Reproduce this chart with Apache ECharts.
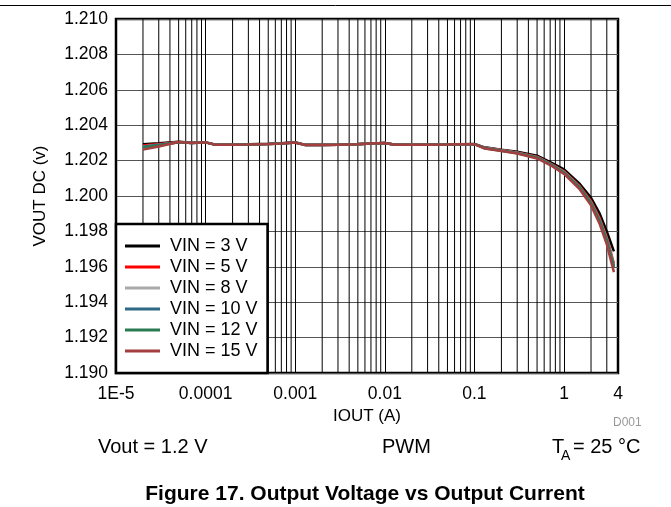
<!DOCTYPE html>
<html><head><meta charset="utf-8">
<script src="https://cdn.jsdelivr.net/npm/echarts@6/dist/echarts.min.js"></script>
<style>html,body{margin:0;padding:0;background:#fff}#c{width:671px;height:507px}</style>
</head><body><div id="c"></div>
<script>
const iout = [2e-5, 3e-5, 5e-5, 7e-5, 1e-4, 1.3e-4, 2e-4, 3e-4, 5e-4, 7e-4, 1e-3, 1.3e-3, 2e-3, 3e-3, 5e-3, 7e-3, 1e-2, 1.3e-2, 2e-2, 3e-2, 5e-2, 7e-2, 0.1, 0.13, 0.2, 0.3, 0.5, 0.7, 1.0, 1.5, 2.0, 2.5, 3.0, 3.6];
const vin3 = [1.20292, 1.20298, 1.20306, 1.20301, 1.20303, 1.20290, 1.20290, 1.20292, 1.20295, 1.20298, 1.20303, 1.20289, 1.20289, 1.20291, 1.20294, 1.20297, 1.20300, 1.20290, 1.20290, 1.20291, 1.20292, 1.20293, 1.20294, 1.20275, 1.20262, 1.20250, 1.20228, 1.20192, 1.20150, 1.20068, 1.19990, 1.19900, 1.19800, 1.19687];
const vin5 = [1.20286, 1.20294, 1.20305, 1.20300, 1.20303, 1.20289, 1.20289, 1.20291, 1.20294, 1.20297, 1.20302, 1.20288, 1.20288, 1.20290, 1.20293, 1.20296, 1.20299, 1.20289, 1.20289, 1.20290, 1.20291, 1.20292, 1.20293, 1.20273, 1.20260, 1.20246, 1.20222, 1.20185, 1.20140, 1.20055, 1.19972, 1.19875, 1.19768, 1.19618];
const vin8 = [1.20280, 1.20290, 1.20304, 1.20300, 1.20303, 1.20289, 1.20289, 1.20291, 1.20294, 1.20297, 1.20302, 1.20288, 1.20288, 1.20290, 1.20293, 1.20296, 1.20299, 1.20289, 1.20289, 1.20290, 1.20291, 1.20292, 1.20293, 1.20272, 1.20258, 1.20244, 1.20219, 1.20182, 1.20136, 1.20050, 1.19965, 1.19866, 1.19757, 1.19608];
const vin10 = [1.20278, 1.20289, 1.20304, 1.20300, 1.20303, 1.20289, 1.20289, 1.20291, 1.20294, 1.20297, 1.20302, 1.20288, 1.20288, 1.20290, 1.20293, 1.20296, 1.20299, 1.20289, 1.20289, 1.20290, 1.20291, 1.20292, 1.20293, 1.20271, 1.20257, 1.20243, 1.20218, 1.20181, 1.20134, 1.20048, 1.19962, 1.19862, 1.19752, 1.19602];
const vin12 = [1.20275, 1.20287, 1.20304, 1.20300, 1.20303, 1.20289, 1.20289, 1.20291, 1.20294, 1.20297, 1.20302, 1.20288, 1.20288, 1.20290, 1.20293, 1.20296, 1.20299, 1.20289, 1.20289, 1.20290, 1.20291, 1.20292, 1.20293, 1.20270, 1.20256, 1.20242, 1.20216, 1.20179, 1.20131, 1.20045, 1.19958, 1.19857, 1.19746, 1.19596];
const vin15 = [1.20262, 1.20280, 1.20305, 1.20300, 1.20303, 1.20289, 1.20289, 1.20291, 1.20294, 1.20297, 1.20302, 1.20288, 1.20288, 1.20290, 1.20293, 1.20296, 1.20299, 1.20289, 1.20289, 1.20290, 1.20291, 1.20292, 1.20293, 1.20268, 1.20254, 1.20240, 1.20212, 1.20175, 1.20125, 1.20037, 1.19947, 1.19842, 1.19727, 1.19570];
const seriesNames = ['VIN = 3 V', 'VIN = 5 V', 'VIN = 8 V', 'VIN = 10 V', 'VIN = 12 V', 'VIN = 15 V'];
const seriesColors = ['#000000', '#ff0000', '#a9a9a9', '#2f6884', '#2a7a52', '#a33f3f'];
const seriesValues = [vin3, vin5, vin8, vin10, vin12, vin15];
const xTickLabels = ['1E-5', '0.0001', '0.001', '0.01', '0.1', '1'];
const xMaxLabel = '4';
const xMin = 1e-5, xMax = 4;
const yMin = 1.190, yMax = 1.210, yStep = 0.002;

const FF = "'Liberation Sans', Arial, sans-serif";
// minor (2..9 per decade) vertical grid lines of the log axis
const minorGridData = [];
for (let e = -5; e <= 0; e++) {
  for (let k = 2; k <= 9; k++) {
    const v = k * Math.pow(10, e);
    if (v < xMax - 1e-9) {
      minorGridData.push([v, yMin], [v, yMax], [v, null]);
    }
  }
}

const chart = echarts.init(document.getElementById('c'), null, {renderer: 'canvas'});
const series = [{
  name: 'minorGrid', type: 'line', data: minorGridData, silent: true, z: 1,
  symbol: 'none', connectNulls: false,
  lineStyle: {color: '#000', width: 1}, tooltip: {show: false}
}];
seriesNames.forEach((n, i) => {
  series.push({
    name: n, type: 'line', symbol: 'none', z: 2,
    data: iout.map((x, j) => [x, seriesValues[i][j]]),
    lineStyle: {color: seriesColors[i], width: 2.5},
    itemStyle: {color: seriesColors[i]}
  });
});

chart.setOption({
  animation: false,
  grid: {left: 116, right: 53, top: 19, bottom: 134, show: true, borderColor: '#000', borderWidth: 2.5, backgroundColor: '#fff'},
  xAxis: {
    type: 'log', logBase: 10, min: xMin, max: xMax,
    name: 'IOUT (A)', nameLocation: 'middle', nameGap: 33,
    nameTextStyle: {fontSize: 17, fontFamily: FF, color: '#000'},
    axisLine: {show: false}, axisTick: {show: false},
    axisLabel: {fontSize: 17.5, fontFamily: FF, color: '#000', margin: 12,
      formatter: v => Math.abs(v - xMax) < 1e-6 ? xMaxLabel : xTickLabels[Math.round(Math.log10(v)) + 5]},
    splitLine: {show: true, lineStyle: {color: '#000', width: 1}}
  },
  yAxis: {
    type: 'value', min: yMin, max: yMax, interval: yStep,
    name: 'VOUT DC (v)', nameLocation: 'middle', nameGap: 67,
    nameTextStyle: {fontSize: 17, fontFamily: FF, color: '#000'},
    axisLine: {show: false}, axisTick: {show: false},
    axisLabel: {fontSize: 17.5, fontFamily: FF, color: '#000', margin: 8, formatter: v => v.toFixed(3)},
    splitLine: {show: true, lineStyle: {color: '#555', width: 1}}
  },
  legend: {
    data: seriesNames, orient: 'vertical', left: 116, bottom: 134,
    backgroundColor: '#fff', borderColor: '#000', borderWidth: 2.5,
    padding: [13, 10, 13, 9], itemWidth: 35, itemHeight: 3, itemGap: 3,
    icon: 'rect',
    textStyle: {fontSize: 18, lineHeight: 18, fontFamily: FF, color: '#000', padding: [0, 0, 0, 5]}
  },
  series: series,
  graphic: [
    {type: 'line', shape: {x1: 0, y1: 5.5, x2: 671, y2: 5.5}, style: {stroke: '#000', lineWidth: 1}},
    {type: 'text', left: 613, top: 417, style: {text: 'D001', fontSize: 12, fontFamily: FF, fill: '#999'}},
    {type: 'text', x: 98, y: 447, style: {text: 'Vout = 1.2 V', fontSize: 20, fontFamily: FF, fill: '#000', verticalAlign: 'middle'}},
    {type: 'text', x: 382, y: 447, style: {text: 'PWM', fontSize: 20, fontFamily: FF, fill: '#000', verticalAlign: 'middle'}},
    {type: 'text', x: 552, y: 447, style: {text: 'T', fontSize: 20, fontFamily: FF, fill: '#000', verticalAlign: 'middle'}},
    {type: 'text', x: 561, y: 456, style: {text: 'A', fontSize: 14, fontFamily: FF, fill: '#000', verticalAlign: 'middle'}},
    {type: 'text', x: 573, y: 447, style: {text: '= 25 °C', fontSize: 20, fontFamily: FF, fill: '#000', verticalAlign: 'middle'}},
    {type: 'text', x: 365, y: 494, style: {text: 'Figure 17. Output Voltage vs Output Current', fontSize: 21, fontWeight: 'bold', fontFamily: FF, fill: '#000', align: 'center', verticalAlign: 'middle'}}
  ]
});
</script></body></html>
